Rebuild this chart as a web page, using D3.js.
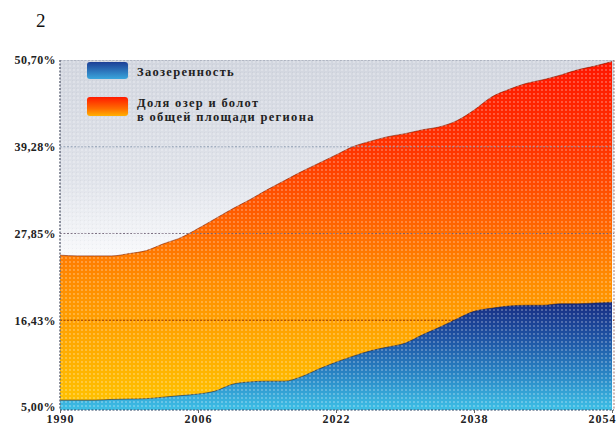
<!DOCTYPE html>
<html><head><meta charset="utf-8">
<script src="https://cdn.jsdelivr.net/npm/d3@7"></script>
<style>
html,body{margin:0;padding:0;background:#fff;}
svg{display:block;}
</style></head>
<body>
<svg id="c" width="616" height="430"></svg>
<script>
const years = [1990,1992,1994,1996,1998,2000,2002,2004,2006,2008,2010,2012,2014,2016,2018,2020,2022,2024,2026,2028,2030,2032,2034,2036,2038,2040,2042,2044,2046,2048,2050,2052,2054];
const lakeSwampShare = [25.0,24.9,24.9,24.9,25.2,25.6,26.5,27.3,28.5,29.8,31.1,32.3,33.6,34.8,36.0,37.1,38.2,39.3,40.0,40.6,41.0,41.5,41.9,42.7,44.1,45.8,46.8,47.6,48.1,48.7,49.4,49.9,50.5];
const lakeDensity = [5.9,5.9,5.9,6.0,6.05,6.1,6.3,6.5,6.7,7.1,8.0,8.3,8.4,8.4,9.0,10.0,10.9,11.7,12.4,12.9,13.4,14.5,15.5,16.6,17.6,18.0,18.3,18.4,18.4,18.6,18.6,18.7,18.8];
const yTicks = [5.00,16.425,27.85,39.275,50.70];
const yTickLabels = ["5,00%","16,43%","27,85%","39,28%","50,70%"];
const xTicks = [1990,2006,2022,2038,2054];
const legendLabels = ["Заозеренность", ["Доля озер и болот","в общей площади региона"]];

const svg = d3.select("#c");
const L = 60, R = 614, T = 60, B = 410;
const x = d3.scaleLinear().domain([1990,2054]).range([60,612]);
const y = d3.scaleLinear().domain([5,50.7]).range([407,60]);
const tf = "Liberation Serif, serif";

const defs = svg.append("defs");
const bg = defs.append("linearGradient").attr("id","bg").attr("gradientUnits","userSpaceOnUse")
  .attr("x1",0).attr("y1",T).attr("x2",0).attr("y2",260);
bg.append("stop").attr("offset","0").attr("stop-color","#d2d6df");
bg.append("stop").attr("offset","0.6").attr("stop-color","#e0e3ea");
bg.append("stop").attr("offset","1").attr("stop-color","#fafbfd");
const og = defs.append("linearGradient").attr("id","og").attr("gradientUnits","userSpaceOnUse")
  .attr("x1",0).attr("y1",T).attr("x2",0).attr("y2",B);
[["0","#ff1500"],["0.25","#ff3300"],["0.45","#ff6000"],["0.62","#ff8a00"],["0.8","#ffa800"],["1","#ffc400"]]
  .forEach(s=>og.append("stop").attr("offset",s[0]).attr("stop-color",s[1]));
const blg = defs.append("linearGradient").attr("id","blg").attr("gradientUnits","userSpaceOnUse")
  .attr("x1",0).attr("y1",298).attr("x2",0).attr("y2",B);
[["0","#17287e"],["0.35","#1e52a3"],["0.7","#2a88c6"],["1","#3ec0e6"]]
  .forEach(s=>blg.append("stop").attr("offset",s[0]).attr("stop-color",s[1]));
const lb = defs.append("linearGradient").attr("id","lb").attr("x1",0).attr("y1",0).attr("x2",0).attr("y2",1);
lb.append("stop").attr("offset","0").attr("stop-color","#1d3f96");
lb.append("stop").attr("offset","1").attr("stop-color","#3aa6dc");
const lo = defs.append("linearGradient").attr("id","lo").attr("x1",0).attr("y1",0).attr("x2",0).attr("y2",1);
lo.append("stop").attr("offset","0").attr("stop-color","#ff1a00");
lo.append("stop").attr("offset","0.6").attr("stop-color","#ff6a00");
lo.append("stop").attr("offset","1").attr("stop-color","#ffb000");
const pat = defs.append("pattern").attr("id","dots").attr("patternUnits","userSpaceOnUse").attr("width",4).attr("height",4);
pat.append("circle").attr("cx",2).attr("cy",2).attr("r",0.9).attr("fill","#ffffff").attr("fill-opacity",0.35);
const pat2 = defs.append("pattern").attr("id","dots2").attr("patternUnits","userSpaceOnUse").attr("width",4).attr("height",4);
pat2.append("circle").attr("cx",0).attr("cy",0).attr("r",0.7).attr("fill","#000").attr("fill-opacity",0.08);
defs.append("clipPath").attr("id","plotclip").append("rect").attr("x",L).attr("y",T).attr("width",R-L).attr("height",B-T);

svg.append("text").attr("x",36).attr("y",27).attr("font-family",tf).attr("font-size",19).attr("fill","#111").text("2");

const g = svg.append("g").attr("clip-path","url(#plotclip)");
g.append("rect").attr("x",L).attr("y",T).attr("width",R-L).attr("height",B-T).attr("fill","url(#bg)");
g.append("rect").attr("x",L).attr("y",T).attr("width",R-L).attr("height",B-T).attr("fill","url(#dots2)");

const data = years.map((yr,i)=>({yr, a:lakeSwampShare[i], b:lakeDensity[i]}));
const areaA = d3.area().curve(d3.curveMonotoneX).x(d=>x(d.yr)).y0(B).y1(d=>y(d.a));
const areaB = d3.area().curve(d3.curveMonotoneX).x(d=>x(d.yr)).y0(B).y1(d=>y(d.b));
const lineA = d3.line().curve(d3.curveMonotoneX).x(d=>x(d.yr)).y(d=>y(d.a));
const lineB = d3.line().curve(d3.curveMonotoneX).x(d=>x(d.yr)).y(d=>y(d.b));

g.append("path").datum(data).attr("d",areaA).attr("fill","url(#og)");
g.append("path").datum(data).attr("d",lineA).attr("fill","none").attr("stroke","#7a1a00").attr("stroke-opacity",0.6).attr("stroke-width",1);

const gridColors = {16.425:"#8a2a00", 27.85:"#6a5a70", 39.275:"#8090a8", 50.7:"#8a90a0"};
yTicks.slice(1).forEach(t=>{
  g.append("line").attr("x1",L).attr("x2",R).attr("y1",y(t)).attr("y2",y(t))
   .attr("stroke",gridColors[t]).attr("stroke-width",1.2).attr("stroke-dasharray","2,1.5").attr("stroke-opacity",0.85);
});

g.append("path").datum(data).attr("d",areaB).attr("fill","url(#blg)");
g.append("path").datum(data).attr("d",lineB).attr("fill","none").attr("stroke","#1a1a40").attr("stroke-opacity",0.55).attr("stroke-width",1);
g.append("rect").attr("x",L).attr("y",T).attr("width",R-L).attr("height",B-T).attr("fill","url(#dots)");

svg.append("line").attr("x1",L).attr("x2",L).attr("y1",T).attr("y2",B).attr("stroke","#6a6f80").attr("stroke-width",1.5).attr("stroke-dasharray","2,1.5");
svg.append("line").attr("x1",L).attr("x2",R).attr("y1",B).attr("y2",B).attr("stroke","#2a4060").attr("stroke-width",1).attr("stroke-dasharray","2,1.5");
svg.append("line").attr("x1",R).attr("x2",R).attr("y1",T).attr("y2",B).attr("stroke","#6a2010").attr("stroke-width",1).attr("stroke-dasharray","2,1.5").attr("stroke-opacity",0.6);

const yAxis = d3.axisLeft(y).tickValues(yTicks).tickFormat((d,i)=>yTickLabels[i]).tickSize(0).tickPadding(3);
const ya = svg.append("g").attr("transform",`translate(${L-1},0)`).call(yAxis);
ya.select(".domain").remove();
ya.selectAll("text").attr("font-family",tf).attr("font-weight","bold").attr("font-size",12).attr("letter-spacing",0.4).attr("fill","#222");

const xAxis = d3.axisBottom(x).tickValues(xTicks).tickFormat(d3.format("d")).tickSize(3).tickPadding(1);
const xa = svg.append("g").attr("transform",`translate(0,${B})`).call(xAxis);
xa.select(".domain").remove();
xa.selectAll("line").attr("stroke","#666");
xa.selectAll("text").attr("font-family",tf).attr("font-weight","bold").attr("font-size",12).attr("letter-spacing",1).attr("fill","#222");
xa.selectAll(".tick").filter(d=>d===2054).select("text").attr("text-anchor","end").attr("x",616-x(2054));

const lg = svg.append("g");
lg.append("rect").attr("x",87).attr("y",62).attr("width",41).attr("height",17).attr("rx",3).attr("fill","url(#lb)");
lg.append("rect").attr("x",87).attr("y",97).attr("width",41).attr("height",19).attr("rx",3).attr("fill","url(#lo)");
const lt = (yy,t)=>lg.append("text").attr("x",137).attr("y",yy).attr("font-family",tf).attr("font-weight","bold")
  .attr("font-size",12.5).attr("letter-spacing",1.3).attr("fill","#222").text(t);
lt(76,legendLabels[0]);
lt(107,legendLabels[1][0]);
lt(121,legendLabels[1][1]);
</script>
</body></html>
